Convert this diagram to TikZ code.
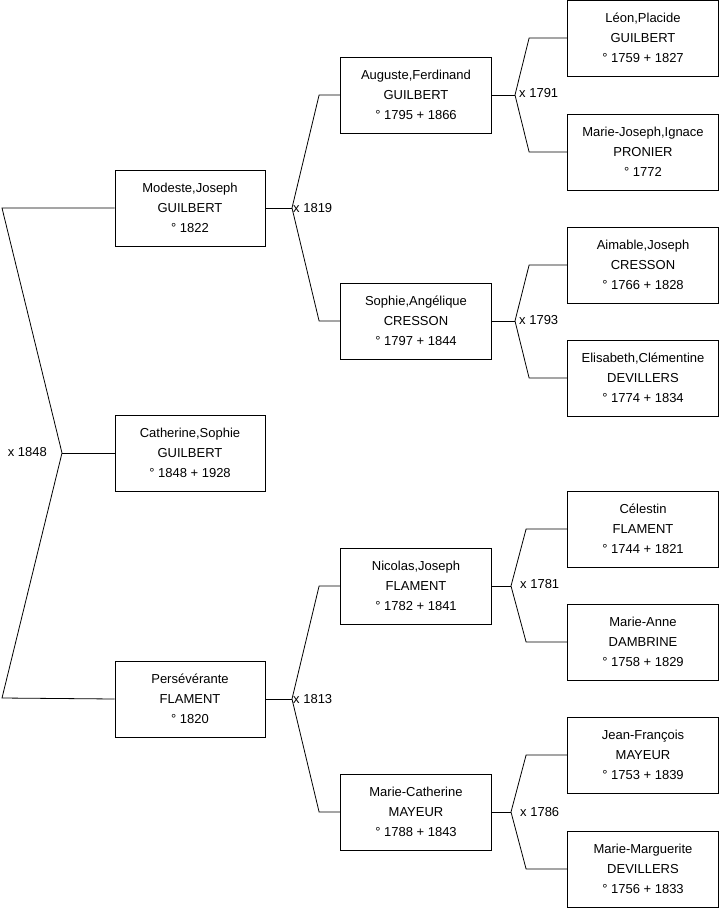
\documentclass[tikz,border=0pt]{standalone}
\usepackage{fontspec}
\setmainfont{Liberation Sans}
\usetikzlibrary{positioning}
\tikzset{
    person/.style={
        rectangle, draw, line width=0.8pt, inner sep=0pt,
        minimum width=151pt, minimum height=76pt, align=center,
        font=\fontsize{13}{20}\selectfont
    },
    link/.style={
        draw, line width=0.8pt
    },
    wed/.style={
        anchor=west, inner sep=0pt, font=\fontsize{13}{14}\selectfont
    }
}
\begin{document}
\begin{tikzpicture}[x=1pt, y=-1pt]
        \useasboundingbox (0,0) rectangle (719,908);

        % Generation 1 and 2

        \node[person, minimum width=150pt] (catherine) at (190,453) {Catherine,Sophie\\GUILBERT\\° 1848 + 1928};
        \node[person, minimum width=150pt] (modeste)   at (190,208) {Modeste,Joseph\\GUILBERT\\° 1822};
        \node[person, minimum width=150pt] (perseve)   at (190,699) {Persévérante\\FLAMENT\\° 1820};

        \coordinate (root) at (62,453);
        \coordinate (rootup) at (2,208);
        \coordinate (rootdown) at (2,698);

        \draw[link] (modeste.west) -- (rootup) -- (root) -- (rootdown) -- (perseve.west);
        \draw[link] (root) -- (catherine.west);
        \node[wed, anchor=east] at (47,452) {x 1848};

        % Generation 3

        \node[person] (auguste)  at (416,95)  {Auguste,Ferdinand\\GUILBERT\\° 1795 + 1866};
        \node[person] (sophie)   at (416,321) {Sophie,Angélique\\CRESSON\\° 1797 + 1844};
        \node[person] (nicolas)  at (416,586) {Nicolas,Joseph\\FLAMENT\\° 1782 + 1841};
        \node[person] (mcath)    at (416,812) {Marie-Catherine\\MAYEUR\\° 1788 + 1843};

        \coordinate (wedmod) at (292,208);
        \coordinate (wedper) at (292,699);

        \draw[link] (modeste.east) -- (wedmod);
        \draw[link] (auguste.west) -- ++(-21,0) -- (wedmod) -- ([xshift=-21pt]sophie.west) -- (sophie.west);
        \node[wed] at (293,208) {x 1819};

        \draw[link] (perseve.east) -- (wedper);
        \draw[link] (nicolas.west) -- ++(-21,0) -- (wedper) -- ([xshift=-21pt]mcath.west) -- (mcath.west);
        \node[wed] at (293,699) {x 1813};

        % Generation 4

        \node[person] (leon)     at (643,38)  {Léon,Placide\\GUILBERT\\° 1759 + 1827};
        \node[person] (mjoseph)  at (643,152) {Marie-Joseph,Ignace\\PRONIER\\° 1772};
        \node[person] (aimable)  at (643,265) {Aimable,Joseph\\CRESSON\\° 1766 + 1828};
        \node[person] (elisa)    at (643,378) {Elisabeth,Clémentine\\DEVILLERS\\° 1774 + 1834};
        \node[person] (celestin) at (643,529) {Célestin\\FLAMENT\\° 1744 + 1821};
        \node[person] (manne)    at (643,642) {Marie-Anne\\DAMBRINE\\° 1758 + 1829};
        \node[person] (jfrancois) at (643,755) {Jean-François\\MAYEUR\\° 1753 + 1839};
        \node[person] (mmarg)    at (643,869) {Marie-Marguerite\\DEVILLERS\\° 1756 + 1833};

        \coordinate (wedaug) at (515,95);
        \coordinate (wedsop) at (515,321);
        \coordinate (wednic) at (511,586);
        \coordinate (wedmca) at (511,812);

        \draw[link] (auguste.east) -- (wedaug);
        \draw[link] (leon.west) -- ++(-38,0) -- (wedaug) -- ([xshift=-38pt]mjoseph.west) -- (mjoseph.west);
        \node[wed] at (519,93) {x 1791};

        \draw[link] (sophie.east) -- (wedsop);
        \draw[link] (aimable.west) -- ++(-38,0) -- (wedsop) -- ([xshift=-38pt]elisa.west) -- (elisa.west);
        \node[wed] at (519,320) {x 1793};

        \draw[link] (nicolas.east) -- (wednic);
        \draw[link] (celestin.west) -- ++(-41,0) -- (wednic) -- ([xshift=-41pt]manne.west) -- (manne.west);
        \node[wed] at (520,584) {x 1781};

        \draw[link] (mcath.east) -- (wedmca);
        \draw[link] (jfrancois.west) -- ++(-41,0) -- (wedmca) -- ([xshift=-41pt]mmarg.west) -- (mmarg.west);
        \node[wed] at (520,812) {x 1786};
\end{tikzpicture}
\end{document}
